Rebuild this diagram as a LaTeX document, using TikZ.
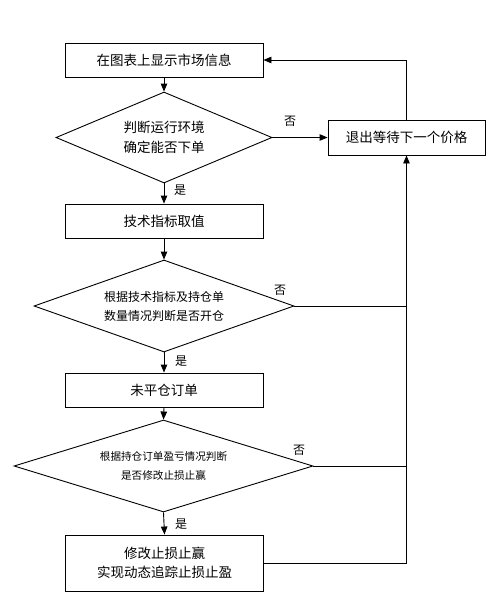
\documentclass[tikz,border=0pt]{standalone}
\usepackage{fontspec}
\newfontfamily\cjk{Noto Sans CJK SC}
\usetikzlibrary{shapes.geometric,arrows.meta}
\begin{document}
\begin{tikzpicture}[x=1pt,y=-1pt,
  box/.style={draw,line width=0.9pt,minimum width=198pt,inner sep=0pt,align=center,
    font=\cjk\fontsize{13.5}{19.5}\selectfont},
  dia/.style={draw,diamond,aspect=2.5,inner sep=0pt,line width=0.9pt,align=center},
  lab/.style={font=\cjk\fontsize{12}{14}\selectfont,inner sep=0pt},
  arr/.style={-{Triangle[length=8pt,width=6.5pt]},line width=0.9pt},
  ln/.style={line width=0.9pt}]
\useasboundingbox[fill=white] (0,0) rectangle (497,600);
\node[box,minimum height=34pt] (b1) at (164,60) {在图表上显示市场信息};
\node[dia,minimum width=216pt,minimum height=91pt,font=\cjk\fontsize{13.5}{20}\selectfont] (d1) at (164,137.5) {判断运行环境\\确定能否下单};
\node[box,minimum width=157pt,minimum height=35pt] (b2) at (406.5,137.5) {退出等待下一个价格};
\node[box,minimum height=34pt] (b3) at (164,221) {技术指标取值};
\node[dia,minimum width=260pt,minimum height=92pt,font=\cjk\fontsize{12}{19}\selectfont] (d2) at (164,306) {根据技术指标及持仓单\\数量情况判断是否开仓};
\node[box,minimum height=34pt] (b4) at (164,390) {未平仓订单};
\node[dia,minimum width=299pt,minimum height=92pt,font=\cjk\fontsize{10.6}{19}\selectfont] (d3) at (163.5,466) {根据持仓订单盈亏情况判断\\是否修改止损止赢};
\node[box,minimum height=56pt] (b5) at (164.5,563) {修改止损止赢\\实现动态追踪止损止盈};

\draw[arr] (b1.south) -- (d1.north);
\draw[arr] (d1.east) -- (b2.west);
\draw[arr] (b2.north) |- (b1.east);
\draw[arr] (d1.south) -- (b3.north);
\draw[arr] (b3.south) -- (d2.north);
\draw[ln] (d2.east) -- (d2.east -| b2.south);
\draw[arr] (d2.south) -- (b4.north);
\draw[arr] (b4.south) -- (d3.north);
\draw[ln] (d3.east) -- (d3.east -| b2.south);
\draw[arr] (d3.south) -- (b5.north);
\draw[arr] (b5.east) -| (b2.south);

\node[lab] (n1) at (290,121) {否};
\node[lab] (y1) at (180,190) {是};
\node[lab] (n2) at (280,290) {否};
\node[lab] (y2) at (181,361) {是};
\node[lab] (n3) at (299,450) {否};
\node[lab] (y3) at (181,524) {是};
\end{tikzpicture}
\end{document}
